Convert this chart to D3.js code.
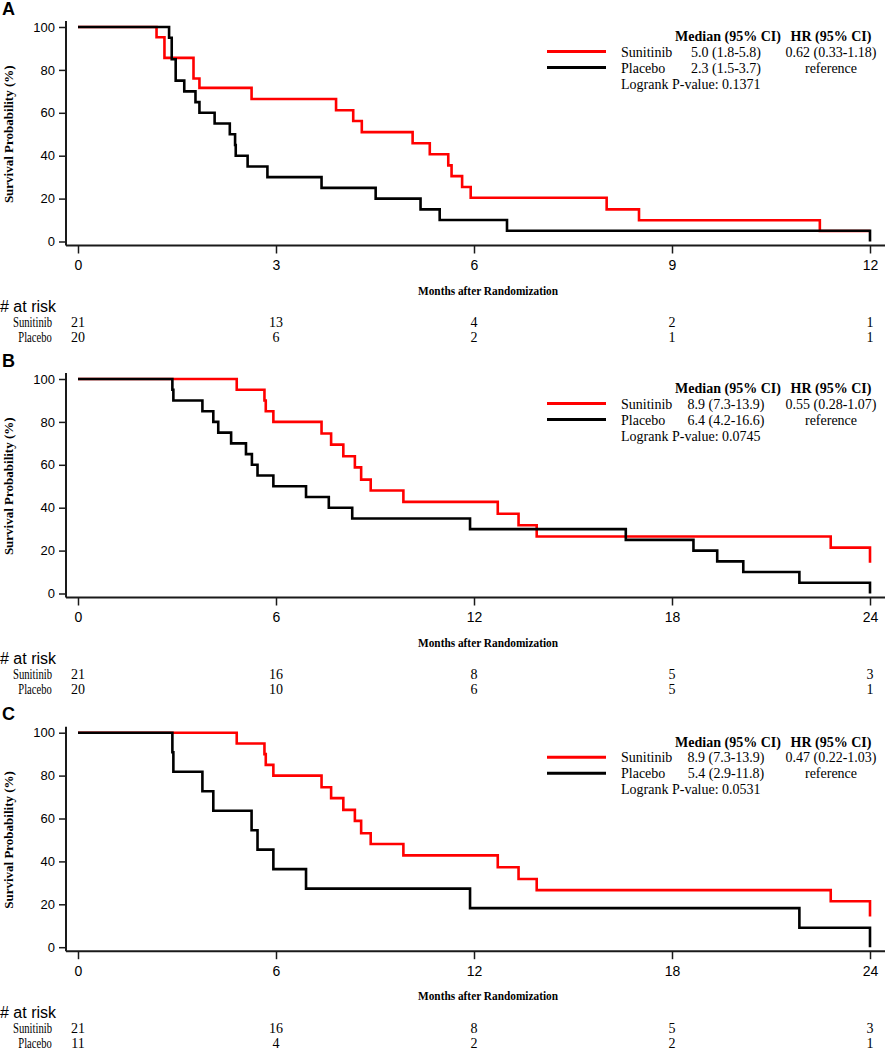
<!DOCTYPE html>
<html><head><meta charset="utf-8">
<script src="https://cdn.jsdelivr.net/npm/d3@7"></script>
<style>body{margin:0;background:#fff} svg{display:block}</style>
</head><body><svg id="c" width="885" height="1050"></svg>
<script>
// ---------- DATA ----------
const panelLabels = ["A", "B", "C"];
const groups = ["Sunitinib", "Placebo"];
const yTicks = [0, 20, 40, 60, 80, 100];
const aTicks = [0, 3, 6, 9, 12];
const bTicks = [0, 6, 12, 18, 24];
const cTicks = [0, 6, 12, 18, 24];

// Panel A
const aSunTime = [0, 1.19, 1.31, 1.75, 1.84, 2.63, 3.91, 4.17, 4.30, 5.07, 5.33, 5.61, 5.66, 5.82, 5.95, 8.01, 8.50, 11.24, 12];
const aSunSurv = [100, 95.2, 85.6, 76.0, 71.6, 66.4, 61.2, 56.2, 51.0, 45.8, 40.7, 35.5, 30.5, 25.4, 20.4, 15.0, 9.9, 4.9, 4.9];
const aPlaTime = [0, 1.38, 1.42, 1.48, 1.61, 1.78, 1.84, 2.07, 2.30, 2.38, 2.39, 2.57, 2.87, 3.69, 4.51, 5.19, 5.48, 6.50, 12];
const aPlaSurv = [100, 95, 85, 75, 70, 65, 60, 55, 50, 45, 40, 35, 30, 25, 20, 15, 10, 5, 0];
const aRiskSun = [21, 13, 4, 2, 1];
const aRiskPla = [20, 6, 2, 1, 1];
const aMedian = ["5.0 (1.8-5.8)", "2.3 (1.5-3.7)"];
const aHR = ["0.62 (0.33-1.18)", "reference"];
const aP = "0.1371";

// Panel B
const bSunTime = [0, 4.81, 5.65, 5.69, 5.92, 7.38, 7.67, 8.04, 8.39, 8.58, 8.87, 9.86, 12.72, 13.35, 13.90, 22.81, 24];
const bSunSurv = [100, 95, 90, 85, 80, 74.6, 69.4, 64, 58.8, 53.1, 48, 42.7, 37.2, 31.8, 26.6, 21.4, 14.3];
const bPlaTime = [0, 2.86, 2.89, 3.77, 4.10, 4.25, 4.64, 5.09, 5.27, 5.44, 5.92, 6.91, 7.60, 8.31, 11.88, 16.6, 18.65, 19.37, 20.16, 21.86, 24];
const bPlaSurv = [100, 95, 90, 85, 80, 75, 70, 65, 60, 55, 50, 45, 40, 35, 30, 25, 20, 15, 10, 5, 0];
const bRiskSun = [21, 16, 8, 5, 3];
const bRiskPla = [20, 10, 6, 5, 1];
const bMedian = ["8.9 (7.3-13.9)", "6.4 (4.2-16.6)"];
const bHR = ["0.55 (0.28-1.07)", "reference"];
const bP = "0.0745";

// Panel C
const cSunTime = [0, 4.81, 5.65, 5.69, 5.92, 7.38, 7.67, 8.04, 8.39, 8.58, 8.87, 9.86, 12.72, 13.35, 13.90, 22.81, 24];
const cSunSurv = [100, 95, 90, 85, 80, 74.6, 69.5, 64, 58.9, 53.1, 48.1, 42.8, 37.3, 31.8, 26.6, 21.4, 14.3];
const cPlaTime = [0, 2.86, 2.89, 3.77, 4.10, 5.26, 5.44, 5.92, 6.91, 11.88, 21.86, 24];
const cPlaSurv = [100, 90.9, 81.8, 72.7, 63.6, 54.5, 45.5, 36.4, 27.3, 18.2, 9.1, 0];
const cRiskSun = [21, 16, 8, 5, 3];
const cRiskPla = [11, 4, 2, 2, 1];
const cMedian = ["8.9 (7.3-13.9)", "5.4 (2.9-11.8)"];
const cHR = ["0.47 (0.22-1.03)", "reference"];
const cP = "0.0531";

const panels = [
  {label: panelLabels[0], ticks: aTicks, sun: [aSunTime, aSunSurv], pla: [aPlaTime, aPlaSurv], risk: [aRiskSun, aRiskPla], median: aMedian, hr: aHR, p: aP},
  {label: panelLabels[1], ticks: bTicks, sun: [bSunTime, bSunSurv], pla: [bPlaTime, bPlaSurv], risk: [bRiskSun, bRiskPla], median: bMedian, hr: bHR, p: bP},
  {label: panelLabels[2], ticks: cTicks, sun: [cSunTime, cSunSurv], pla: [cPlaTime, cPlaSurv], risk: [cRiskSun, cRiskPla], median: cMedian, hr: cHR, p: cP}
];

// ---------- LAYOUT ----------
const layoutTop = [27, 379, 732.7];   // y of 100%
const plotH = 214.5;
const X0 = 78, X1 = 870, AXIS_X = 66;
const RED = "#ff0000", BLACK = "#000000", AXC = "#1a1a1a";
const SERIF = "'Liberation Serif','Times New Roman',serif";
const SANS = "'Liberation Sans',Arial,sans-serif";

const svg = d3.select("#c");

panels.forEach((p, i) => {
  const yTop = layoutTop[i];
  const yBot = yTop + plotH;
  const axisY = yBot + 4;
  const g = svg.append("g");
  const x = d3.scaleLinear().domain([0, p.ticks[p.ticks.length - 1]]).range([X0, X1]);
  const y = d3.scaleLinear().domain([0, 100]).range([yBot, yTop]);

  // panel letter
  g.append("text").attr("x", 2).attr("y", yTop - 12.5)
    .attr("font-family", SANS).attr("font-weight", "bold").attr("font-size", 18)
    .text(p.label);

  // y axis
  const yAx = g.append("g").attr("transform", `translate(${AXIS_X},0)`)
    .call(d3.axisLeft(y).tickValues(yTicks).tickSize(7).tickPadding(4).tickSizeOuter(0));
  yAx.select(".domain").remove();
  yAx.selectAll(".tick line").attr("stroke", AXC).attr("stroke-width", 1.5);
  yAx.selectAll(".tick text").attr("font-family", SANS).attr("font-size", 13).attr("fill", "#000");
  g.append("line").attr("x1", AXIS_X).attr("x2", AXIS_X).attr("y1", yTop - 6).attr("y2", axisY)
    .attr("stroke", AXC).attr("stroke-width", 2);

  // x axis
  const xAx = g.append("g").attr("transform", `translate(0,${axisY})`)
    .call(d3.axisBottom(x).tickValues(p.ticks).tickSize(8).tickSizeOuter(0));
  xAx.select(".domain").remove();
  xAx.selectAll(".tick line").attr("stroke", AXC).attr("stroke-width", 1.5);
  xAx.selectAll(".tick text").attr("font-family", SANS).attr("font-size", 14).attr("fill", "#000")
    .attr("y", 20).attr("dy", "0.35em");
  g.append("line").attr("x1", AXIS_X).attr("x2", 885).attr("y1", axisY).attr("y2", axisY)
    .attr("stroke", AXC).attr("stroke-width", 2);

  // axis titles
  g.append("text").attr("transform", `translate(8,${(yTop + yBot) / 2}) rotate(-90)`)
    .attr("text-anchor", "middle").attr("dy", "0.35em")
    .attr("font-family", SERIF).attr("font-weight", "bold").attr("font-size", 13)
    .text("Survival Probability (%)");
  g.append("text").attr("x", 488).attr("y", yBot + 48.5).attr("dy", "0.35em")
    .attr("text-anchor", "middle").attr("font-family", SERIF).attr("font-weight", "bold")
    .attr("font-size", 13).attr("textLength", 140).attr("lengthAdjust", "spacingAndGlyphs")
    .text("Months after Randomization");

  // curves (placebo drawn last -> on top)
  const line = d3.line().x(d => x(d[0])).y(d => y(d[1])).curve(d3.curveStepAfter);
  [[p.sun, RED], [p.pla, BLACK]].forEach(([s, col]) => {
    const pts = s[0].map((t, k) => [t, s[1][k]]);
    g.append("path").attr("d", line(pts)).attr("fill", "none")
      .attr("stroke", col).attr("stroke-width", 2.6).attr("stroke-linejoin", "miter");
  });

  // legend
  const lg = g.append("g").attr("font-family", SERIF).attr("font-size", 14);
  lg.append("text").attr("x", 728).attr("y", yTop + 9.5).attr("dy", "0.35em").attr("text-anchor", "middle")
    .attr("font-weight", "bold").text("Median (95% CI)");
  lg.append("text").attr("x", 831).attr("y", yTop + 9.5).attr("dy", "0.35em").attr("text-anchor", "middle")
    .attr("font-weight", "bold").text("HR (95% CI)");
  [RED, BLACK].forEach((col, k) => {
    const ly = yTop + 24.6 + k * 16;
    lg.append("line").attr("x1", 547).attr("x2", 606).attr("y1", ly).attr("y2", ly)
      .attr("stroke", col).attr("stroke-width", 3);
    lg.append("text").attr("x", 621).attr("y", ly).attr("dy", "0.35em").text(groups[k]);
    lg.append("text").attr("x", 726).attr("y", ly).attr("dy", "0.35em").attr("text-anchor", "middle").text(p.median[k]);
    lg.append("text").attr("x", 831).attr("y", ly).attr("dy", "0.35em").attr("text-anchor", "middle").text(p.hr[k]);
  });
  lg.append("text").attr("x", 621).attr("y", yTop + 56.6).attr("dy", "0.35em").text("Logrank P-value: " + p.p);

  // at risk table
  g.append("text").attr("x", 0).attr("y", yBot + 70.5).attr("font-family", SANS).attr("font-size", 16)
    .text("# at risk");
  const rowStart = [13, 18.3], rowW = [39, 33.4];
  groups.forEach((name, k) => {
    const by = yBot + 85.7 + k * 15;
    g.append("text").attr("x", rowStart[k]).attr("y", by).attr("font-family", SERIF).attr("font-size", 14)
      .attr("textLength", rowW[k]).attr("lengthAdjust", "spacingAndGlyphs").text(name);
    g.selectAll(null).data(p.risk[k]).enter().append("text")
      .attr("x", (d, j) => x(p.ticks[j])).attr("y", by).attr("text-anchor", "middle")
      .attr("font-family", SERIF).attr("font-size", 14).text(d => d);
  });
});
</script></body></html>
